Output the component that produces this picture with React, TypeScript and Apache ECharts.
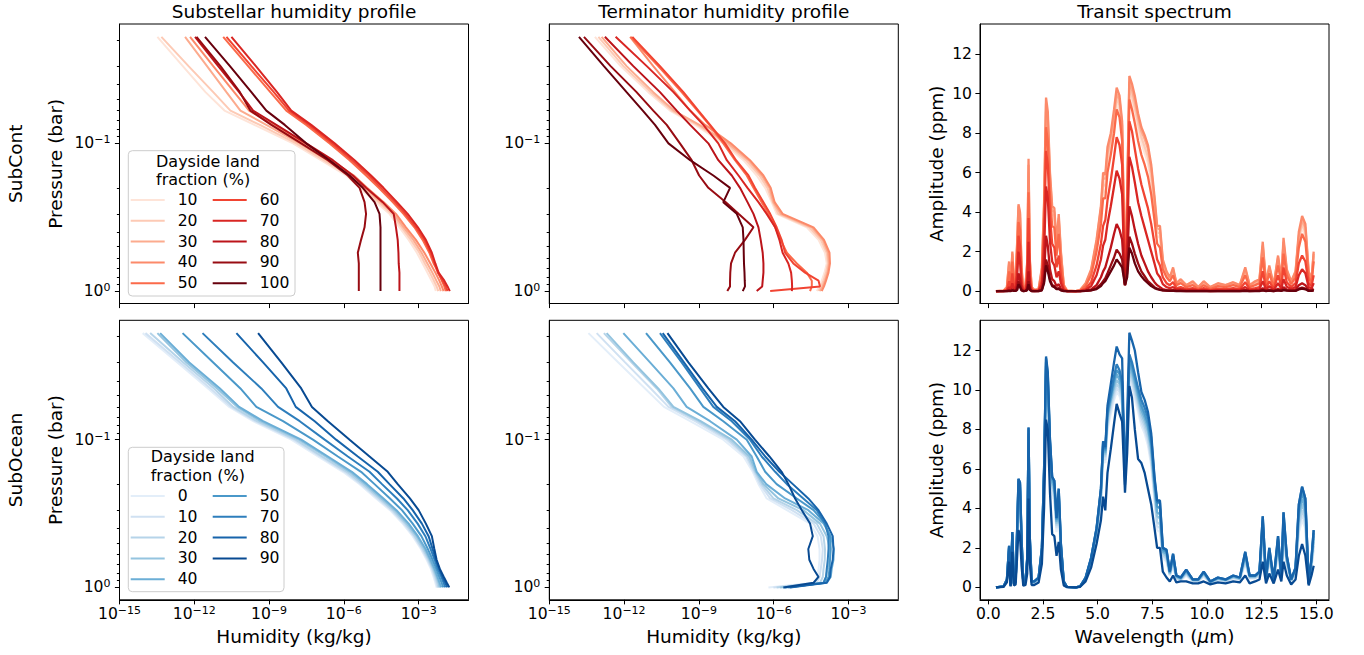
import React, { useEffect, useRef } from "react";
import * as echarts from "echarts";

const FONT = "DejaVu Sans";

// ---------- shared axes values ----------
const pressureBar = [0.019, 0.03, 0.045, 0.06, 0.075, 0.1, 0.13, 0.165, 0.2, 0.25, 0.3, 0.37, 0.45, 0.55, 0.65, 0.75, 0.85, 0.93, 1.0];
const humidityTickExp = [-15, -12, -9, -6, -3];
const pressureTickExp = [-1, 0];
const pressureMinorBar = [0.02, 0.03, 0.04, 0.05, 0.06, 0.07, 0.08, 0.09, 0.2, 0.3, 0.4, 0.5, 0.6, 0.7, 0.8, 0.9];
const wavelengthTicks = [0, 2.5, 5, 7.5, 10, 12.5, 15];
const amplitudeTicks = [0, 2, 4, 6, 8, 10, 12];

// ---------- categories ----------
const contLand = [10, 20, 30, 40, 50, 60, 70, 80, 90, 100];
const oceanLand = [0, 10, 20, 30, 40, 50, 70, 80, 90];
const redColors = ["#fee4d8", "#fdcab5", "#fcab8e", "#fc8a6a", "#fb6a4a", "#f14432", "#d92623", "#bc141a", "#980c13", "#67000d"];
const blueColors = ["#e3eef9", "#d0e1f2", "#b6d4e9", "#94c4df", "#6baed6", "#4a98c9", "#2e7ebc", "#1764ab", "#084a92"];

// ---------- humidity profiles: log10(kg/kg) at pressureBar levels ----------
const contSubstellarLogQ = [
  [-13.48, -12.46, -11.55, -10.79, -9.59, -8.04, -6.92, -5.91, -5.37, -4.71, -4.17, -3.77, -3.40, -3.07, -2.84, -2.65, -2.48, -2.36, -2.31],
  [-13.32, -12.23, -11.24, -10.55, -9.37, -7.91, -6.81, -5.80, -5.27, -4.60, -4.08, -3.68, -3.31, -2.97, -2.75, -2.55, -2.39, -2.28, -2.21],
  [-12.37, -11.49, -10.71, -10.15, -9.11, -7.77, -6.68, -5.71, -5.17, -4.51, -4.00, -3.60, -3.21, -2.88, -2.65, -2.45, -2.29, -2.17, -2.11],
  [-12.17, -11.24, -10.40, -9.80, -8.84, -7.57, -6.51, -5.60, -5.07, -4.40, -3.91, -3.51, -3.11, -2.77, -2.53, -2.33, -2.17, -2.07, -2.00],
  [-10.84, -9.84, -8.95, -8.31, -7.51, -6.57, -5.77, -5.11, -4.60, -4.04, -3.61, -3.17, -2.84, -2.57, -2.40, -2.20, -2.07, -1.97, -1.91],
  [-10.71, -9.71, -8.81, -8.20, -7.40, -6.47, -5.67, -5.00, -4.51, -3.95, -3.53, -3.11, -2.77, -2.52, -2.36, -2.23, -2.04, -1.91, -1.84],
  [-10.51, -9.53, -8.68, -8.11, -7.31, -6.37, -5.57, -4.91, -4.41, -3.87, -3.44, -3.03, -2.71, -2.47, -2.33, -2.20, -1.97, -1.84, -1.75],
  [-11.97, -11.04, -10.20, -9.64, -8.71, -7.51, -6.44, -5.64, -5.11, -4.44, -4.00, -3.91, -3.84, -3.81, -3.80, -3.77, -3.77, -3.77, -3.77],
  [-11.91, -10.95, -10.17, -9.75, -8.91, -7.71, -6.64, -5.84, -5.37, -5.17, -5.11, -5.17, -5.31, -5.44, -5.40, -5.40, -5.40, -5.40, -5.40],
  [-11.57, -10.57, -9.71, -9.11, -8.37, -7.51, -6.57, -5.77, -5.24, -4.77, -4.57, -4.53, -4.53, -4.53, -4.53, -4.53, -4.53, -4.53, -4.53],
];
const contTerminatorLogQ = [
  [-13.17, -12.14, -11.03, -10.16, -9.15, -8.02, -7.21, -6.68, -6.34, -6.08, -5.88, -4.67, -4.20, -3.94, -3.87, -3.96, -4.07, -4.16, -4.27],
  [-13.03, -12.03, -10.93, -10.08, -9.06, -7.91, -7.11, -6.57, -6.25, -6.04, -5.81, -4.57, -4.11, -3.87, -3.82, -3.90, -4.00, -4.10, -4.20],
  [-12.90, -11.90, -10.83, -10.00, -8.98, -7.82, -7.01, -6.48, -6.17, -6.01, -5.72, -4.47, -4.03, -3.82, -3.78, -3.84, -3.94, -4.03, -4.14],
  [-11.76, -10.83, -9.96, -9.35, -8.75, -7.72, -6.95, -6.41, -6.12, -5.96, -5.64, -4.40, -3.98, -3.76, -3.74, -3.80, -3.90, -3.98, -4.07],
  [-11.74, -10.63, -9.69, -9.06, -8.58, -8.02, -7.55, -7.08, -6.81, -6.48, -6.21, -5.94, -5.72, -5.47, -5.07, -4.67, -4.47, -4.47, -4.54],
  [-11.67, -10.56, -9.62, -9.02, -8.55, -7.95, -7.51, -7.01, -6.75, -6.41, -6.14, -5.88, -5.68, -5.54, -5.21, -4.74, -4.20, -4.14, -6.14],
  [-12.34, -11.09, -10.02, -9.35, -8.82, -8.22, -7.88, -7.41, -7.05, -6.61, -6.28, -5.94, -5.77, -5.64, -5.41, -5.30, -5.27, -5.26, -5.27],
  [-12.77, -11.63, -10.56, -9.89, -9.35, -8.62, -8.22, -7.68, -7.35, -7.05, -6.81, -6.61, -6.52, -6.44, -6.41, -6.41, -6.44, -6.46, -6.68],
  [-13.61, -12.54, -11.50, -10.83, -10.29, -9.76, -9.29, -8.99, -8.62, -7.92, -7.41, -6.81, -7.15, -7.55, -7.71, -7.74, -7.75, -7.75, -7.86],
  [-13.81, -12.81, -11.90, -11.25, -10.76, -10.22, -9.35, -8.42, -7.75, -8.02, -7.48, -7.24, -7.21, -7.20, -7.19, -7.17, -7.16, -7.15, -7.24],
];
const oceanSubstellarLogQ = [
  [-14.07, -12.68, -11.45, -10.60, -9.64, -8.11, -7.04, -6.04, -5.37, -4.71, -4.15, -3.64, -3.24, -2.91, -2.68, -2.51, -2.40, -2.33, -2.28],
  [-13.96, -12.57, -11.35, -10.52, -9.56, -8.01, -6.95, -5.96, -5.31, -4.64, -4.09, -3.59, -3.19, -2.87, -2.64, -2.47, -2.36, -2.29, -2.24],
  [-13.77, -12.44, -11.21, -10.44, -9.48, -7.93, -6.87, -5.88, -5.24, -4.57, -4.04, -3.53, -3.15, -2.83, -2.60, -2.44, -2.32, -2.25, -2.20],
  [-13.48, -12.31, -11.08, -10.28, -9.35, -7.80, -6.73, -5.77, -5.15, -4.49, -3.96, -3.47, -3.08, -2.77, -2.56, -2.40, -2.28, -2.20, -2.15],
  [-13.37, -12.20, -10.97, -10.20, -9.24, -7.71, -6.64, -5.68, -5.07, -4.41, -3.89, -3.40, -3.03, -2.72, -2.52, -2.36, -2.24, -2.16, -2.09],
  [-12.47, -11.24, -10.15, -9.51, -8.44, -7.24, -6.24, -5.31, -4.77, -4.15, -3.67, -3.24, -2.89, -2.63, -2.44, -2.29, -2.17, -2.08, -2.01],
  [-11.67, -10.44, -9.31, -8.64, -7.77, -6.77, -5.84, -4.97, -4.47, -3.87, -3.44, -3.04, -2.73, -2.52, -2.36, -2.23, -2.09, -2.00, -1.93],
  [-10.31, -9.24, -8.31, -7.93, -7.17, -6.31, -5.44, -4.64, -4.17, -3.61, -3.24, -2.87, -2.60, -2.44, -2.31, -2.17, -2.04, -1.93, -1.85],
  [-9.44, -8.51, -7.71, -7.28, -6.64, -5.77, -4.97, -4.24, -3.84, -3.35, -3.00, -2.71, -2.47, -2.37, -2.28, -2.15, -1.99, -1.87, -1.77],
];
const oceanTerminatorLogQ = [
  [-13.43, -12.23, -11.16, -10.40, -9.35, -8.02, -7.21, -6.84, -6.61, -6.28, -5.47, -4.54, -4.24, -4.16, -4.16, -4.20, -4.24, -4.34, -6.21],
  [-13.10, -11.96, -10.93, -10.22, -9.15, -7.88, -7.11, -6.79, -6.55, -6.14, -5.27, -4.40, -4.11, -4.03, -4.06, -4.11, -4.16, -4.27, -6.01],
  [-12.81, -11.70, -10.69, -10.09, -9.02, -7.78, -7.05, -6.75, -6.48, -6.01, -5.07, -4.27, -4.00, -3.94, -3.95, -4.00, -4.03, -4.14, -5.88],
  [-12.70, -11.63, -10.63, -10.02, -8.93, -7.68, -6.97, -6.71, -6.41, -5.81, -4.81, -4.14, -3.87, -3.74, -3.76, -3.84, -3.90, -4.00, -5.74],
  [-12.03, -10.96, -10.02, -9.49, -8.55, -7.48, -6.88, -6.68, -6.30, -5.54, -4.61, -4.00, -3.71, -3.58, -3.60, -3.67, -3.71, -3.87, -5.61],
  [-11.12, -10.16, -9.35, -8.82, -8.02, -7.08, -6.68, -6.34, -5.88, -5.07, -4.40, -3.94, -3.74, -3.71, -3.74, -3.76, -3.80, -3.94, -5.54],
  [-10.56, -9.69, -8.95, -8.42, -7.68, -6.95, -6.48, -5.94, -5.47, -4.81, -4.27, -3.94, -3.80, -3.80, -3.83, -3.87, -3.90, -4.00, -5.41],
  [-10.45, -9.60, -8.85, -8.28, -7.55, -6.88, -6.34, -5.77, -5.23, -4.61, -4.20, -3.87, -3.63, -3.60, -3.63, -3.71, -3.74, -3.87, -5.34],
  [-10.26, -9.42, -8.62, -8.02, -7.35, -6.75, -6.17, -5.68, -5.41, -5.14, -4.87, -4.54, -4.43, -4.61, -4.57, -4.40, -4.20, -4.40, -5.61],
];

// ---------- transit spectra (ppm) at wavelengthUm ----------
const wavelengthUm = [0.35, 0.7, 0.85, 0.95, 1.02, 1.1, 1.17, 1.25, 1.32, 1.38, 1.45, 1.52, 1.6, 1.7, 1.78, 1.84, 1.9, 1.98, 2.1, 2.3, 2.45, 2.55, 2.64, 2.72, 2.82, 2.92, 3.02, 3.12, 3.22, 3.32, 3.45, 3.6, 4.0, 4.2, 4.45, 4.7, 4.95, 5.15, 5.25, 5.35, 5.45, 5.6, 5.75, 5.87, 6.0, 6.12, 6.25, 6.35, 6.45, 6.57, 6.7, 6.85, 7.0, 7.15, 7.3, 7.45, 7.6, 7.72, 7.85, 7.98, 8.15, 8.3, 8.45, 8.6, 8.8, 9.05, 9.35, 9.6, 9.85, 10.15, 10.5, 10.85, 11.2, 11.5, 11.75, 11.95, 12.2, 12.4, 12.55, 12.7, 12.85, 13.05, 13.25, 13.4, 13.5, 13.65, 13.85, 14.05, 14.2, 14.35, 14.5, 14.65, 14.78, 14.88];

const contSpectraPpm = [
  [0, .02, .15, 1.2, .2, 1.7, .4, .5, 2.2, 3.9, 3.5, 1.0, .1, .25, 1.2, 5.6, 1.3, .15, .05, .1, 1.0, 3.9, 8.8, 8.1, 5.3, 3.7, 3.6, 2.1, 3.3, 1.7, .25, .02, 0, .04, .3, .9, 2.3, 3.8, 5.0, 5.1, 6.4, 7.2, 8.3, 9.5, 9.1, 7.9, .4, 4.4, 10.0, 9.6, 9.0, 8.2, 7.5, 7.0, 6.5, 5.5, 4.1, 2.8, 2.7, 1.3, .85, .6, 1.0, .35, .5, .25, .4, .15, .4, .15, .3, .25, .35, .25, 1.0, .25, .4, .5, 2.0, .35, 1.0, .25, 1.5, .5, 2.2, .9, .4, .85, 2.5, 3.2, 2.8, .85, .5, 1.7],
  [0, .02, .15, 1.3, .2, 1.8, .45, .55, 2.3, 4.1, 3.7, 1.0, .1, .25, 1.3, 6.0, 1.4, .2, .05, .1, 1.0, 4.1, 9.1, 8.4, 5.5, 3.9, 3.8, 2.2, 3.5, 1.8, .25, .02, 0, .04, .3, .95, 2.4, 4.0, 5.3, 5.4, 6.7, 7.5, 8.6, 9.8, 9.4, 8.1, .4, 4.6, 10.3, 9.9, 9.3, 8.5, 7.8, 7.3, 6.8, 5.8, 4.3, 3.0, 2.9, 1.4, .9, .6, 1.0, .35, .5, .25, .4, .2, .4, .15, .35, .25, .4, .25, 1.0, .25, .4, .5, 2.2, .35, 1.1, .25, 1.6, .5, 2.4, .95, .4, .9, 2.7, 3.4, 3.0, .9, .5, 1.8],
  [0, .02, .2, 1.4, .2, 1.9, .5, .6, 2.4, 4.3, 3.9, 1.1, .1, .3, 1.4, 6.4, 1.5, .2, .05, .1, 1.1, 4.3, 9.5, 8.8, 5.8, 4.1, 4.0, 2.3, 3.7, 1.9, .3, .02, 0, .05, .35, 1.0, 2.5, 4.2, 5.7, 5.7, 7.0, 7.8, 8.9, 10.0, 9.7, 8.4, .4, 4.8, 10.6, 10.2, 9.6, 8.8, 8.1, 7.7, 7.2, 6.2, 4.6, 3.2, 3.1, 1.5, .95, .65, 1.1, .4, .55, .3, .45, .2, .45, .2, .35, .3, .4, .3, 1.1, .3, .45, .55, 2.3, .4, 1.2, .3, 1.7, .55, 2.5, 1.0, .45, .95, 2.8, 3.6, 3.2, .95, .55, 1.9],
  [0, .02, .2, 1.5, .2, 2.0, .5, .6, 2.5, 4.4, 4.0, 1.2, .1, .3, 1.5, 6.7, 1.6, .2, .05, .1, 1.2, 4.5, 9.8, 9.1, 6.0, 4.3, 4.2, 2.4, 3.9, 2.0, .3, .02, 0, .05, .4, 1.1, 2.6, 4.3, 6.0, 5.9, 7.3, 8.0, 9.2, 10.3, 9.9, 8.6, .4, 5.0, 10.9, 10.5, 9.9, 9.0, 8.3, 7.9, 7.4, 6.4, 4.8, 3.3, 3.3, 1.6, 1.0, .7, 1.2, .4, .6, .3, .5, .2, .5, .2, .4, .3, .45, .3, 1.2, .3, .5, .6, 2.5, .4, 1.3, .3, 1.8, .6, 2.7, 1.1, .5, 1.0, 3.0, 3.8, 3.4, 1.0, .6, 2.0],
  [0, .01, .1, 1.0, .15, 1.5, .35, .45, 2.0, 3.5, 3.1, .8, .05, .2, 1.0, 5.0, 1.1, .1, .03, .05, .8, 3.6, 8.3, 7.6, 4.8, 3.3, 3.2, 1.8, 2.9, 1.4, .2, .01, 0, .03, .25, .8, 2.0, 3.4, 4.7, 4.7, 6.0, 6.9, 8.0, 9.2, 8.8, 7.6, .4, 4.2, 9.7, 9.2, 8.5, 7.6, 6.9, 6.4, 5.8, 4.9, 3.6, 2.4, 2.2, 1.1, .7, .5, .8, .3, .4, .2, .3, .1, .3, .1, .25, .2, .3, .2, .8, .2, .3, .4, 1.7, .3, .9, .2, 1.3, .4, 1.9, .8, .35, .7, 2.2, 2.9, 2.5, .7, .4, 1.5],
  [0, .01, .05, .5, .1, .9, .2, .3, 1.3, 2.8, 2.3, .5, .03, .1, .7, 3.7, .7, .05, .02, .03, .5, 2.9, 7.1, 6.4, 3.8, 2.4, 2.2, 1.2, 1.8, .8, .1, 0, 0, .01, .12, .45, 1.3, 2.4, 3.3, 3.6, 4.6, 5.6, 6.8, 7.8, 7.4, 6.4, .35, 3.4, 8.6, 8.1, 7.2, 6.2, 5.4, 4.8, 4.2, 3.4, 2.4, 1.6, 1.3, .7, .4, .3, .45, .15, .2, .1, .15, .05, .15, .05, .12, .1, .15, .1, .45, .1, .15, .2, 1.0, .15, .5, .1, .8, .25, 1.2, .45, .2, .4, 1.4, 1.8, 1.5, .4, .25, .8],
  [0, 0, .03, .2, .05, .4, .1, .15, .8, 2.0, 1.5, .3, .02, .05, .4, 2.5, .4, .03, .01, .02, .3, 2.0, 5.3, 4.7, 2.5, 1.5, 1.3, .7, 1.0, .4, .05, 0, 0, 0, .06, .25, .8, 1.6, 2.3, 2.6, 3.4, 4.3, 5.3, 6.1, 5.7, 4.9, .3, 2.5, 6.8, 6.3, 5.5, 4.5, 3.8, 3.2, 2.6, 2.0, 1.4, .9, .7, .35, .2, .15, .2, .08, .1, .05, .07, .03, .06, .02, .05, .04, .06, .05, .2, .05, .07, .1, .5, .08, .25, .05, .4, .12, .6, .22, .1, .2, .8, 1.1, .9, .2, .12, .4],
  [0, 0, .01, .05, .02, .1, .03, .05, .3, .9, .6, .1, .01, .02, .15, 1.0, .15, .01, 0, .01, .1, .9, 2.8, 2.3, 1.1, .6, .5, .25, .35, .12, .02, 0, 0, 0, .02, .08, .3, .7, 1.0, 1.2, 1.6, 2.2, 2.9, 3.4, 3.1, 2.6, .3, 1.4, 4.3, 3.8, 3.1, 2.4, 1.8, 1.4, 1.0, .7, .45, .3, .2, .1, .05, .04, .05, .02, .03, .01, .02, .01, .02, 0, .01, .01, .02, .01, .06, .01, .02, .03, .15, .02, .08, .01, .12, .04, .2, .07, .03, .06, .3, .4, .3, .06, .04, .12],
  [0, 0, 0, .02, .01, .05, .01, .02, .1, .5, .3, .05, 0, .01, .08, .5, .08, 0, 0, 0, .05, .5, 1.6, 1.3, .6, .3, .25, .12, .15, .05, .01, 0, 0, 0, .01, .04, .15, .35, .5, .65, .9, 1.3, 1.7, 2.1, 1.9, 1.6, .3, .9, 2.75, 2.4, 1.9, 1.4, 1.0, .75, .5, .35, .2, .12, .08, .04, .02, .02, .02, .01, .01, 0, 0, 0, 0, 0, 0, 0, 0, 0, .02, 0, .01, .01, .05, .01, .03, 0, .05, .01, .08, .03, .01, .02, .12, .18, .13, .02, .01, .05],
  [0, 0, 0, .01, 0, .03, .01, .01, .05, .35, .2, .03, 0, .01, .05, .35, .05, 0, 0, 0, .04, .4, 1.3, 1.0, .5, .25, .2, .1, .1, .04, 0, 0, 0, 0, .01, .03, .1, .25, .4, .5, .7, 1.0, 1.3, 1.6, 1.4, 1.2, .3, .7, 2.2, 1.9, 1.4, 1.0, .75, .55, .4, .25, .15, .1, .06, .03, .02, .01, .01, 0, 0, 0, 0, 0, 0, 0, 0, 0, 0, 0, .01, 0, 0, 0, .03, 0, .02, 0, .03, .01, .05, .02, .01, .01, .08, .12, .09, .01, .01, .03],
];
const oceanSpectraPpm = [
  [0, .04, .3, 1.7, .08, 2.3, .15, .25, 2.5, 4.6, 4.4, 2.0, .15, .24, 1.2, 7.0, 2.0, .22, .22, .4, 1.6, 5.2, 10.4, 9.6, 6.4, 4.6, 4.4, 2.8, 4.0, 1.7, .22, .01, 0, .04, .38, 1.2, 2.5, 4.3, 6.5, 6.3, 8.0, 8.8, 9.5, 9.9, 9.7, 9.2, 5.4, 7.2, 10.6, 10.2, 9.6, 8.9, 8.2, 7.8, 7.2, 6.2, 4.4, 2.9, 2.8, 1.5, 1.3, .6, 1.1, .42, .35, .6, .3, .3, .55, .22, .38, .3, .45, .38, 1.2, .45, .45, .6, 2.4, .38, 1.3, .3, 1.7, .45, 2.5, 1.1, .3, .7, 2.8, 3.4, 3.0, .15, 1.0, 1.9],
  [0, .04, .32, 1.8, .08, 2.4, .16, .26, 2.6, 4.8, 4.6, 2.1, .16, .25, 1.25, 7.2, 2.1, .24, .24, .42, 1.7, 5.4, 10.6, 9.8, 6.6, 4.8, 4.6, 3.0, 4.2, 1.8, .24, .01, 0, .04, .4, 1.25, 2.6, 4.4, 6.7, 6.45, 8.2, 9.0, 9.7, 10.1, 9.9, 9.4, 5.4, 7.3, 10.8, 10.4, 9.8, 9.1, 8.4, 8.0, 7.4, 6.4, 4.6, 3.1, 3.0, 1.6, 1.4, .62, 1.2, .45, .38, .65, .32, .32, .6, .24, .4, .32, .48, .4, 1.3, .48, .48, .62, 2.6, .4, 1.4, .32, 1.85, .48, 2.7, 1.2, .32, .75, 3.0, 3.7, 3.2, .16, 1.1, 2.1],
  [0, .04, .34, 1.85, .09, 2.5, .17, .27, 2.7, 4.95, 4.75, 2.2, .17, .26, 1.3, 7.4, 2.2, .25, .25, .44, 1.75, 5.5, 10.8, 10.0, 6.8, 5.0, 4.8, 3.1, 4.4, 1.9, .25, .02, 0, .04, .42, 1.3, 2.7, 4.55, 6.9, 6.6, 8.4, 9.2, 9.9, 10.3, 10.1, 9.6, 5.5, 7.4, 11.0, 10.6, 10.0, 9.3, 8.6, 8.2, 7.6, 6.6, 4.8, 3.3, 3.2, 1.65, 1.5, .65, 1.3, .48, .4, .7, .34, .34, .65, .25, .42, .34, .5, .42, 1.4, .5, .5, .65, 2.8, .42, 1.5, .34, 2.0, .5, 2.9, 1.3, .34, .8, 3.2, 3.9, 3.5, .17, 1.2, 2.3],
  [0, .05, .36, 1.9, .09, 2.55, .18, .28, 2.8, 5.1, 4.9, 2.3, .18, .27, 1.35, 7.6, 2.3, .26, .26, .46, 1.8, 5.65, 11.0, 10.2, 7.0, 5.15, 4.95, 3.2, 4.55, 2.0, .26, .02, 0, .05, .44, 1.35, 2.8, 4.7, 7.0, 6.7, 8.6, 9.4, 10.1, 10.5, 10.3, 9.8, 5.5, 7.6, 11.2, 10.8, 10.2, 9.5, 8.8, 8.4, 7.9, 6.9, 5.0, 3.6, 3.5, 1.75, 1.6, .7, 1.4, .52, .43, .75, .36, .36, .7, .26, .44, .36, .53, .44, 1.5, .53, .53, .7, 3.0, .44, 1.6, .36, 2.15, .53, 3.1, 1.35, .36, .85, 3.5, 4.2, 3.7, .18, 1.25, 2.45],
  [0, .05, .38, 2.0, .1, 2.65, .19, .29, 2.9, 5.25, 5.05, 2.35, .19, .28, 1.4, 7.8, 2.35, .28, .28, .48, 1.9, 5.8, 11.2, 10.4, 7.2, 5.3, 5.1, 3.3, 4.7, 2.05, .28, .02, 0, .05, .46, 1.4, 2.9, 4.8, 7.15, 6.8, 8.7, 9.5, 10.3, 10.8, 10.5, 10.0, 5.6, 7.7, 11.4, 11.0, 10.4, 9.7, 9.0, 8.6, 8.1, 7.1, 5.1, 3.8, 3.7, 1.8, 1.7, .72, 1.5, .55, .45, .8, .38, .38, .72, .28, .46, .38, .56, .46, 1.6, .56, .56, .72, 3.2, .46, 1.7, .38, 2.3, .56, 3.3, 1.45, .38, .9, 3.7, 4.5, 4.0, .19, 1.35, 2.6],
  [0, .05, .39, 2.05, .1, 2.7, .2, .3, 2.95, 5.4, 5.2, 2.45, .2, .29, 1.45, 8.0, 2.45, .29, .29, .49, 1.95, 5.9, 11.4, 10.6, 7.35, 5.45, 5.25, 3.4, 4.85, 2.15, .29, .02, 0, .05, .48, 1.45, 2.95, 4.9, 7.3, 6.9, 8.85, 9.65, 10.5, 11.0, 10.8, 10.2, 5.6, 7.9, 11.6, 11.2, 10.6, 9.9, 9.2, 8.8, 8.3, 7.3, 5.3, 4.1, 4.0, 1.9, 1.8, .76, 1.6, .58, .48, .85, .39, .39, .76, .29, .48, .39, .58, .48, 1.7, .58, .58, .76, 3.4, .48, 1.85, .39, 2.45, .58, 3.55, 1.5, .39, .95, 3.95, 4.8, 4.3, .2, 1.4, 2.75],
  [0, .05, .4, 2.1, .1, 2.8, .2, .3, 3.0, 5.5, 5.3, 2.5, .2, .3, 1.5, 8.1, 2.5, .3, .3, .5, 2.0, 6.0, 11.6, 10.8, 7.5, 5.6, 5.4, 3.5, 5.0, 2.2, .3, .02, 0, .05, .5, 1.5, 3.0, 5.0, 7.4, 7.0, 9.0, 9.8, 10.7, 11.3, 11.0, 10.4, 5.6, 8.0, 11.8, 11.4, 10.8, 10.1, 9.5, 9.1, 8.6, 7.6, 5.5, 4.3, 4.3, 2.0, 1.9, .8, 1.7, .6, .5, .9, .4, .4, .8, .3, .5, .4, .6, .5, 1.8, .6, .6, .8, 3.6, .5, 2.0, .4, 2.6, .6, 3.8, 1.6, .4, 1.0, 4.2, 5.1, 4.5, .2, 1.5, 2.9],
  [0, .05, .4, 2.1, .1, 2.8, .2, .3, 3.0, 5.5, 5.3, 2.5, .2, .3, 1.5, 8.1, 2.5, .3, .3, .5, 2.0, 6.0, 11.7, 10.9, 7.5, 5.6, 5.4, 3.5, 5.0, 2.2, .3, .02, 0, .05, .5, 1.5, 3.0, 5.0, 7.4, 7.1, 9.2, 10.3, 11.4, 12.2, 11.8, 11.6, 5.2, 8.6, 12.9, 12.5, 12.0, 10.9, 9.9, 9.5, 8.9, 7.8, 5.6, 4.4, 4.4, 2.0, 1.9, .8, 1.7, .6, .5, .9, .4, .4, .8, .3, .5, .4, .6, .5, 1.8, .6, .6, .8, 3.6, .5, 2.0, .4, 2.6, .6, 3.8, 1.6, .4, 1.0, 4.2, 5.1, 4.5, .2, 1.5, 2.9],
  [0, .03, .25, 1.3, .05, 1.8, .1, .15, 1.6, 2.9, 2.6, 1.1, .08, .12, .7, 4.5, 1.2, .12, .12, .25, 1.2, 4.0, 8.5, 8.0, 4.8, 2.7, 2.6, 1.6, 2.3, .9, .1, .01, 0, .03, .3, 1.0, 2.2, 3.4, 4.6, 3.9, 5.8, 7.0, 8.3, 9.3, 8.8, 8.4, 4.8, 6.8, 10.2, 9.6, 8.0, 6.5, 6.3, 5.8, 5.0, 4.2, 3.0, 2.0, 2.0, .8, .5, .3, .6, .25, .3, .3, .2, .2, .3, .15, .25, .2, .3, .25, .6, .2, .3, .4, 1.3, .2, .7, .2, .9, .3, 1.3, .6, .15, .4, 1.6, 2.2, 1.6, .1, .6, 1.1],
];

// ---------- helpers ----------
const supMinus = (n: number) => (n < 0 ? "\u2212" + Math.abs(n) : String(n));
const logLabel = (v: number) => `{b|10}{s|${supMinus(Math.round(v))}}`;
const richLog = {
  b: { fontSize: 15.6, fontFamily: FONT, color: "#000", lineHeight: 18 },
  s: { fontSize: 11, fontFamily: FONT, color: "#000", lineHeight: 14, verticalAlign: "top" },
};
const nameStyle = { fontSize: 18.5, fontFamily: FONT, color: "#000", lineHeight: 20 };
const tickLabelStyle = { fontSize: 15.6, fontFamily: FONT, color: "#000" };
const axisLine = { show: true, onZero: false, lineStyle: { color: "#000", width: 1 } };
const ticks = (vals: number[], len: number) => ({
  show: true, inside: false, length: len, customValues: vals, lineStyle: { color: "#000", width: 1 },
});

const gridLeft = [119.5, 549.3, 980];
const gridTop = [24, 320.3];
const GRID_W = 349;
const GRID_H = 279.5;
const Y_LOG_MIN = -1.808;
const Y_LOG_MAX = 0.084;

function buildOption() {
  const grid: any[] = [];
  const xAxis: any[] = [];
  const yAxis: any[] = [];
  const series: any[] = [];
  const mainY: number[] = [];

  for (let r = 0; r < 2; r++) {
    for (let c = 0; c < 3; c++) {
      const gi = r * 3 + c;
      grid.push({
        left: gridLeft[c], top: gridTop[r], width: GRID_W, height: GRID_H,
        show: true, borderColor: "#000", borderWidth: 1, backgroundColor: "transparent",
        containLabel: false, outerBoundsMode: "none",
      });
      const bottomRow = r === 1;
      if (c < 2) {
        xAxis.push({
          type: "value", gridIndex: gi, min: -15, max: -1,
          axisLine, axisTick: ticks(humidityTickExp, 4.6), splitLine: { show: false },
          axisLabel: { show: bottomRow, customValues: humidityTickExp, formatter: logLabel, rich: richLog, margin: 5 },
          name: bottomRow ? "Humidity (kg/kg)" : "", nameLocation: "middle", nameGap: 27, nameTextStyle: nameStyle,
        });
        mainY[gi] = yAxis.length;
        yAxis.push({
          type: "value", gridIndex: gi, position: "left", inverse: true, min: Y_LOG_MIN, max: Y_LOG_MAX,
          axisLine, axisTick: ticks(pressureTickExp, 4.6), splitLine: { show: false },
          axisLabel: { show: true, customValues: pressureTickExp, formatter: logLabel, rich: richLog, margin: 9 },
          name: c === 0 ? "Pressure (bar)" : "", nameLocation: "middle", nameGap: 54, nameTextStyle: nameStyle,
        });
        yAxis.push({
          type: "value", gridIndex: gi, position: "left", offset: 0, inverse: true, min: Y_LOG_MIN, max: Y_LOG_MAX,
          axisLine: { show: false, onZero: false }, splitLine: { show: false }, axisLabel: { show: false },
          axisTick: ticks(pressureMinorBar.map((p) => Math.log10(p)), 2.6),
        });
      } else {
        xAxis.push({
          type: "value", gridIndex: gi, min: -0.38, max: 15.58,
          axisLine, axisTick: ticks(wavelengthTicks, 4.6), splitLine: { show: false },
          axisLabel: { show: bottomRow, customValues: wavelengthTicks, formatter: (v: number) => v.toFixed(1), margin: 6, ...tickLabelStyle },
          name: bottomRow ? "Wavelength ({i|\u03bc}m)" : "", nameLocation: "middle", nameGap: 27,
          nameTextStyle: { ...nameStyle, rich: { i: { ...nameStyle, fontStyle: "italic" } } },
        });
        mainY[gi] = yAxis.length;
        yAxis.push({
          type: "value", gridIndex: gi, position: "left", min: -0.63, max: 13.53,
          axisLine, axisTick: ticks(amplitudeTicks, 4.6), splitLine: { show: false },
          axisLabel: { show: true, customValues: amplitudeTicks, formatter: (v: number) => String(v), margin: 8, ...tickLabelStyle },
          name: "Amplitude (ppm)", nameLocation: "middle", nameGap: 34, nameTextStyle: nameStyle,
        });
      }
    }
  }

  const addProfiles = (gi: number, rows: number[][], lands: number[], colors: string[], prefix: string) => {
    rows.forEach((row, k) => {
      series.push({
        type: "line", name: prefix + lands[k], xAxisIndex: gi, yAxisIndex: mainY[gi],
        data: pressureBar.map((p, i) => [row[i], Math.log10(p)]),
        showSymbol: false, symbol: "none", color: colors[k], silent: true,
        lineStyle: { color: colors[k], width: 2 }, itemStyle: { color: colors[k] },
      });
    });
  };
  const addSpectra = (gi: number, rows: number[][], lands: number[], colors: string[], prefix: string) => {
    rows.forEach((row, k) => {
      series.push({
        type: "line", name: prefix + lands[k], xAxisIndex: gi, yAxisIndex: mainY[gi],
        data: wavelengthUm.map((w, i) => [w, row[i]]),
        showSymbol: false, symbol: "none", color: colors[k], silent: true,
        lineStyle: { color: colors[k], width: 2.3 }, itemStyle: { color: colors[k] },
      });
    });
  };

  addProfiles(0, contSubstellarLogQ, contLand, redColors, "r");
  addProfiles(1, contTerminatorLogQ, contLand, redColors, "r");
  addSpectra(2, contSpectraPpm, contLand, redColors, "r");
  addProfiles(3, oceanSubstellarLogQ, oceanLand, blueColors, "b");
  addProfiles(4, oceanTerminatorLogQ, oceanLand, blueColors, "b");
  addSpectra(5, oceanSpectraPpm, oceanLand, blueColors, "b");

  const legendBase = {
    orient: "vertical", height: 106, itemWidth: 34, itemHeight: 2, itemGap: 0, icon: "rect",
    selectedMode: false, padding: 0, z: 20,
    formatter: (n: string) => n.slice(1),
    textStyle: { fontSize: 15.6, fontFamily: FONT, color: "#000", lineHeight: 20.8, width: 35, padding: [0, 0, 0, 8] },
  };
  const legend = [
    { ...legendBase, data: contLand.map((v) => "r" + v), left: 130.7, top: 189.6 },
    { ...legendBase, data: oceanLand.map((v) => "b" + v), left: 130.7, top: 485.6 },
  ];

  const txt = (text: string, x: number, y: number, size: number, extra: any = {}) => ({
    type: "text", x, y, z: 30, silent: true, rotation: extra.rotation || 0,
    style: {
      text, fontSize: size, fontFamily: FONT, fill: "#000",
      textAlign: extra.align || "center", align: extra.align || "center",
      textVerticalAlign: extra.valign || "middle", verticalAlign: extra.valign || "middle",
      lineHeight: extra.lineHeight,
    },
  });

  const graphic = [
    { type: "rect", z: 15, silent: true, shape: { x: 128.3, y: 150.7, width: 166.7, height: 145.3, r: 4 }, style: { fill: "rgba(255,255,255,0.8)", stroke: "#cccccc", lineWidth: 1 } },
    { type: "rect", z: 15, silent: true, shape: { x: 128.3, y: 447.3, width: 155.7, height: 144.4, r: 4 }, style: { fill: "rgba(255,255,255,0.8)", stroke: "#cccccc", lineWidth: 1 } },
    txt("Dayside land\nfraction (%)", 156, 151.8, 16, { align: "left", valign: "top", lineHeight: 18.5 }),
    txt("Dayside land\nfraction (%)", 150.7, 447.4, 16, { align: "left", valign: "top", lineHeight: 18.5 }),
    txt("Substellar humidity profile", gridLeft[0] + GRID_W / 2, 11.5, 18.5),
    txt("Terminator humidity profile", gridLeft[1] + GRID_W / 2, 11.5, 18.5),
    txt("Transit spectrum", gridLeft[2] + GRID_W / 2, 11.5, 18.5),
    txt("SubCont", 15.5, gridTop[0] + GRID_H / 2, 18.5, { rotation: Math.PI / 2 }),
    txt("SubOcean", 15.5, gridTop[1] + GRID_H / 2, 18.5, { rotation: Math.PI / 2 }),
  ];

  return {
    animation: false,
    backgroundColor: "#ffffff",
    textStyle: { fontFamily: FONT },
    grid, xAxis, yAxis, series, legend, graphic,
  };
}

export default function App() {
  const ref = useRef<HTMLDivElement>(null);
  useEffect(() => {
    if (!ref.current) return;
    const chart = echarts.init(ref.current, null, { renderer: "svg" });
    chart.setOption(buildOption() as any);
    return () => chart.dispose();
  }, []);
  return (
    <div
      ref={ref}
      style={{ position: "fixed", left: 0, top: 0, width: 1364, height: 655, background: "#fff" }}
    />
  );
}
